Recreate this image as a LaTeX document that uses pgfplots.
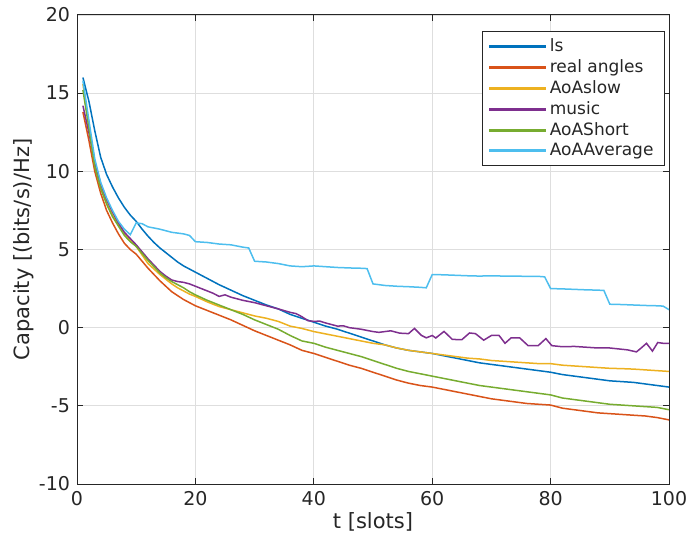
\documentclass[border=0pt]{standalone}
\usepackage{pgfplots}
\pgfplotsset{compat=1.18}
\usepackage{fontspec}
\setmainfont{DejaVu Sans}
\definecolor{cls}{RGB}{0,114,189}
\definecolor{creal}{RGB}{217,83,25}
\definecolor{cslow}{RGB}{237,177,32}
\definecolor{cmusic}{RGB}{126,47,142}
\definecolor{cshort}{RGB}{119,172,48}
\definecolor{cavg}{RGB}{77,190,238}
\definecolor{axcol}{RGB}{38,38,38}
\begin{document}
\begin{tikzpicture}
\path[use as bounding box] (-38.5pt,-31pt) rectangle (306pt,242pt);
\begin{axis}[
  scale only axis, width=296pt, height=234.5pt,
  xmin=0, xmax=100, ymin=-10, ymax=20,
  xtick={0,20,...,100}, ytick={-10,-5,...,20},
  grid=major, major grid style={color=black!13, line width=0.4pt},
  axis line style={color=axcol, line width=0.5pt},
  tick style={color=axcol, line width=0.5pt},
  tick align=inside, major tick length=3pt,
  ticklabel style={font=\fontsize{9.5}{11}\selectfont, color=axcol},
  /pgf/number format/assume math mode=true,
  xlabel={t [slots]}, ylabel={Capacity [(bits/s)/Hz]},
  label style={font=\fontsize{10.5}{12}\selectfont, color=axcol},
  xlabel style={at={(axis description cs:0.5,-0.0959)}, anchor=base},
  ylabel style={at={(axis description cs:-0.0794,0.5)}, anchor=base},
  legend style={at={(0.9932,0.9659)}, anchor=north east, draw=axcol, line width=0.5pt,
    font=\fontsize{8.5}{10}\selectfont, text=axcol, inner xsep=3.5pt, inner ysep=1.5pt, row sep=-1.5pt},
  legend cell align=left,
  legend image code/.code={\fill[#1] (0cm,-0.32pt) rectangle (0.97cm,0.32pt);},
  every axis plot/.append style={line width=0.75pt},
]
\addplot[color=cls] coordinates {(1,16.0)(2,14.5)(3,12.6)(4,10.9)(5,9.8)(6,9.0)(7,8.3)(8,7.7)(9,7.2)(10,6.8)(11,6.3)(12,5.85)(13,5.45)(14,5.1)(15,4.8)(16,4.5)(17,4.2)(18,3.95)(19,3.75)(20,3.55)(22,3.15)(24,2.75)(26,2.4)(28,2.05)(30,1.75)(32,1.45)(34,1.2)(36,0.85)(38,0.6)(40,0.35)(42,0.1)(44,-0.1)(46,-0.35)(48,-0.6)(50,-0.85)(52,-1.1)(54,-1.3)(56,-1.45)(58,-1.55)(60,-1.65)(62,-1.8)(64,-1.95)(66,-2.1)(68,-2.25)(70,-2.35)(72,-2.45)(74,-2.55)(76,-2.65)(78,-2.75)(80,-2.85)(82,-3.0)(84,-3.1)(86,-3.2)(88,-3.3)(90,-3.4)(92,-3.45)(94,-3.5)(96,-3.6)(98,-3.7)(100,-3.8)};
\addlegendentry{ls}
\addplot[color=creal] coordinates {(1,13.8)(2,12.0)(3,10.0)(4,8.6)(5,7.5)(6,6.7)(7,6.0)(8,5.4)(9,5.0)(10,4.7)(11,4.25)(12,3.8)(13,3.4)(14,3.0)(15,2.65)(16,2.3)(17,2.05)(18,1.8)(19,1.6)(20,1.4)(22,1.1)(24,0.8)(26,0.5)(28,0.15)(30,-0.2)(32,-0.5)(34,-0.8)(36,-1.1)(38,-1.45)(40,-1.65)(42,-1.9)(44,-2.15)(46,-2.4)(48,-2.6)(50,-2.85)(52,-3.1)(54,-3.35)(56,-3.55)(58,-3.7)(60,-3.8)(62,-3.95)(64,-4.1)(66,-4.25)(68,-4.4)(70,-4.55)(72,-4.65)(74,-4.75)(76,-4.85)(78,-4.9)(80,-4.95)(82,-5.15)(84,-5.25)(86,-5.35)(88,-5.45)(90,-5.5)(92,-5.55)(94,-5.6)(96,-5.65)(98,-5.75)(100,-5.9)};
\addlegendentry{real angles}
\addplot[color=cslow] coordinates {(1,15.6)(2,13.0)(3,10.5)(4,9.0)(5,8.0)(6,7.2)(7,6.6)(8,6.0)(9,5.6)(10,5.2)(11,4.65)(12,4.1)(13,3.75)(14,3.4)(15,3.1)(16,2.8)(17,2.55)(18,2.35)(19,2.15)(20,2.0)(22,1.65)(24,1.35)(26,1.15)(28,0.95)(30,0.75)(32,0.6)(34,0.4)(36,0.1)(38,-0.05)(40,-0.25)(42,-0.4)(44,-0.55)(46,-0.7)(48,-0.85)(50,-1.0)(52,-1.1)(54,-1.3)(56,-1.45)(58,-1.55)(60,-1.65)(62,-1.75)(64,-1.85)(66,-1.95)(68,-2.0)(70,-2.1)(72,-2.15)(74,-2.2)(76,-2.25)(78,-2.3)(80,-2.3)(82,-2.4)(84,-2.45)(86,-2.5)(88,-2.55)(90,-2.6)(92,-2.62)(94,-2.65)(96,-2.7)(98,-2.75)(100,-2.8)};
\addlegendentry{AoAslow}
\addplot[color=cmusic] coordinates {(1,14.2)(2,12.5)(3,10.6)(4,9.2)(5,8.2)(6,7.4)(7,6.7)(8,6.1)(9,5.7)(10,5.3)(11,4.85)(12,4.4)(13,4.0)(14,3.6)(15,3.3)(16,3.05)(17,2.95)(18,2.9)(19,2.8)(20,2.65)(21,2.5)(22,2.35)(23,2.2)(24,2.0)(25,2.1)(26,1.95)(27,1.85)(28,1.75)(30,1.6)(32,1.4)(34,1.2)(36,0.98)(37,0.9)(38,0.7)(39,0.45)(40,0.4)(41,0.42)(42,0.3)(44,0.1)(45,0.12)(46,0.0)(48,-0.1)(50,-0.25)(51,-0.3)(53,-0.2)(54.5,-0.35)(56,-0.38)(57,-0.05)(58.2,-0.5)(59,-0.65)(60,-0.5)(60.6,-0.66)(62,-0.24)(63.4,-0.75)(65,-0.77)(66.3,-0.34)(67.3,-0.38)(68.7,-0.8)(70,-0.5)(71.3,-0.5)(72.3,-1.0)(73.3,-0.66)(74.8,-0.66)(76.2,-1.15)(77.9,-1.15)(79.2,-0.7)(80.2,-1.15)(82,-1.22)(84,-1.2)(86,-1.25)(88,-1.3)(90,-1.3)(92,-1.38)(93,-1.42)(94.5,-1.55)(95.3,-1.3)(96.2,-1.0)(97.2,-1.5)(98.1,-0.95)(99,-1.0)(100,-1.0)};
\addlegendentry{music}
\addplot[color=cshort] coordinates {(1,15.2)(2,12.8)(3,10.3)(4,8.9)(5,7.9)(6,7.1)(7,6.5)(8,5.9)(9,5.5)(10,5.2)(11,4.75)(12,4.3)(13,3.9)(14,3.5)(15,3.2)(16,2.95)(17,2.75)(18,2.55)(19,2.3)(20,2.1)(22,1.75)(24,1.45)(26,1.15)(28,0.85)(30,0.5)(32,0.2)(34,-0.1)(36,-0.5)(38,-0.85)(40,-1.0)(42,-1.25)(44,-1.45)(46,-1.65)(48,-1.85)(50,-2.1)(52,-2.35)(54,-2.6)(56,-2.8)(58,-2.95)(60,-3.1)(62,-3.25)(64,-3.4)(66,-3.55)(68,-3.7)(70,-3.8)(72,-3.9)(74,-4.0)(76,-4.1)(78,-4.2)(80,-4.3)(82,-4.5)(84,-4.6)(86,-4.7)(88,-4.8)(90,-4.9)(92,-4.95)(94,-5.0)(96,-5.05)(98,-5.1)(100,-5.25)};
\addlegendentry{AoAShort}
\addplot[color=cavg] coordinates {(1,15.8)(2,13.3)(3,10.8)(4,9.3)(5,8.3)(6,7.5)(7,6.8)(8,6.3)(9,5.95)(10,6.7)(11,6.65)(12,6.45)(14,6.3)(16,6.1)(18,6.0)(19,5.9)(20,5.5)(22,5.45)(24,5.35)(26,5.3)(28,5.15)(29,5.1)(30,4.25)(32,4.2)(34,4.1)(36,3.95)(38,3.9)(40,3.95)(42,3.9)(44,3.85)(46,3.82)(48,3.8)(49,3.78)(50,2.8)(52,2.7)(54,2.65)(56,2.62)(58,2.58)(59,2.55)(60,3.4)(62,3.38)(64,3.35)(66,3.32)(68,3.3)(70,3.32)(72,3.3)(74,3.3)(76,3.28)(78,3.28)(79,3.25)(80,2.5)(82,2.48)(84,2.45)(86,2.42)(88,2.4)(89,2.38)(90,1.5)(92,1.48)(94,1.45)(96,1.42)(98,1.4)(99,1.38)(100,1.15)};
\addlegendentry{AoAAverage}
\end{axis}
\end{tikzpicture}
\end{document}
